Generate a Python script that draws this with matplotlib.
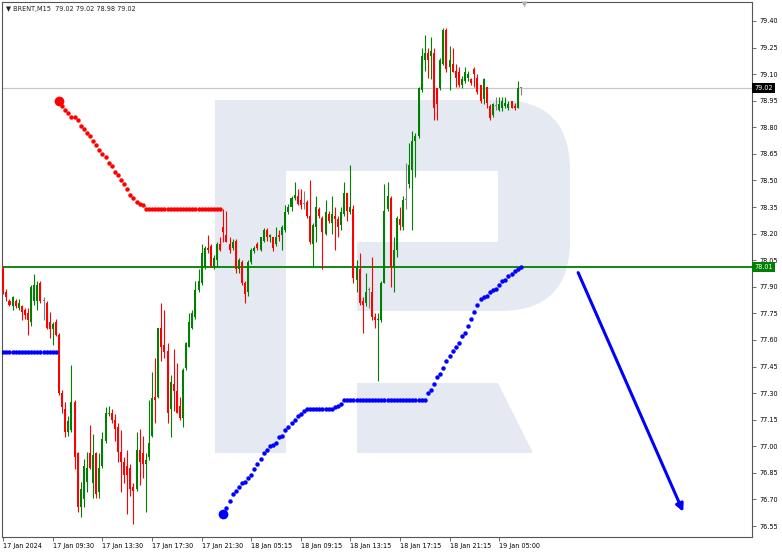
import numpy as np
import matplotlib.pyplot as plt
from matplotlib.path import Path
from matplotlib.patches import PathPatch
from matplotlib.transforms import blended_transform_factory

# BRENT M15 candles, oldest first (bar index 0..167)
opens = [
    78.00, 77.87, 77.82, 77.79, 77.82, 77.78, 77.79, 77.77, 77.75, 77.70,
    77.82, 77.82, 77.92, 77.82, 77.81, 77.70, 77.66, 77.70, 77.63, 77.30,
    77.21, 77.08, 77.09, 77.25, 76.96, 76.66, 76.70, 76.80, 76.96, 76.79,
    76.96, 76.74, 76.89, 77.03, 77.18, 77.19, 77.15, 77.11, 76.97, 76.91,
    76.89, 76.88, 76.77, 76.76, 76.98, 76.96, 76.90, 76.94, 77.06, 77.28,
    77.28, 77.67, 77.57, 77.54, 77.21, 77.35, 77.31, 77.23, 77.16, 77.44,
    77.56, 77.67, 77.73, 77.88, 77.92, 78.01, 78.12, 78.13, 78.02, 78.05,
    78.14, 78.24, 78.19, 78.14, 78.12, 78.16, 78.00, 78.04, 77.92, 77.87,
    78.04, 78.10, 78.14, 78.11, 78.16, 78.22, 78.18, 78.18, 78.14, 78.19,
    78.19, 78.22, 78.32, 78.35, 78.40, 78.41, 78.39, 78.37, 78.38, 78.30,
    78.14, 78.24, 78.34, 78.29, 78.20, 78.31, 78.26, 78.30, 78.28, 78.25,
    78.31, 78.43, 78.32, 78.34, 77.94, 78.00, 77.82, 77.81, 77.88, 77.87,
    77.73, 77.71, 77.71, 77.92, 78.34, 78.40, 78.01, 78.11, 78.28, 78.24,
    78.39, 78.48, 78.56, 78.72, 78.75, 79.01, 79.18, 79.22, 79.20, 79.22,
    79.02, 79.02, 79.16, 79.35, 79.14, 79.16, 79.12, 79.11, 79.04, 79.06,
    79.08, 79.07, 79.13, 79.08, 79.04, 78.96, 79.03, 78.92, 78.87, 78.92,
    78.90, 78.91, 78.92, 78.91, 78.95, 78.92, 78.91, 79.02,
]
highs = [
    78.02, 77.89, 77.83, 77.85, 77.83, 77.83, 77.80, 77.78, 77.78, 77.91,
    77.97, 77.93, 77.93, 77.84, 77.82, 77.76, 77.70, 77.72, 77.64, 77.32,
    77.25, 77.17, 77.46, 77.26, 76.97, 76.80, 76.93, 76.97, 77.12, 77.07,
    76.97, 76.96, 77.08, 77.22, 77.23, 77.21, 77.18, 77.13, 77.09, 76.94,
    76.98, 76.90, 76.79, 77.08, 77.10, 77.06, 76.96, 77.26, 77.42, 77.50,
    77.67, 77.81, 77.77, 77.58, 77.40, 77.55, 77.47, 77.28, 77.44, 77.59,
    77.75, 77.77, 77.93, 78.00, 78.14, 78.13, 78.19, 78.14, 78.08, 78.15,
    78.18, 78.34, 78.33, 78.18, 78.17, 78.17, 78.06, 78.05, 77.93, 78.05,
    78.12, 78.13, 78.15, 78.18, 78.23, 78.23, 78.20, 78.18, 78.24, 78.22,
    78.25, 78.36, 78.37, 78.41, 78.49, 78.45, 78.45, 78.44, 78.39, 78.50,
    78.26, 78.41, 78.35, 78.30, 78.39, 78.33, 78.41, 78.35, 78.30, 78.35,
    78.49, 78.43, 78.59, 78.36, 78.05, 78.09, 77.84, 77.98, 77.90, 78.07,
    77.75, 77.75, 77.93, 78.48, 78.49, 78.41, 78.18, 78.30, 78.35, 78.41,
    78.60, 78.71, 78.78, 78.77, 79.03, 79.25, 79.32, 79.25, 79.31, 79.25,
    79.02, 79.19, 79.36, 79.36, 79.26, 79.25, 79.16, 79.14, 79.09, 79.14,
    79.12, 79.08, 79.14, 79.10, 79.04, 79.08, 79.03, 78.93, 78.94, 78.97,
    78.97, 78.97, 78.97, 78.95, 78.95, 78.94, 79.06, 79.02,
]
lows = [
    77.86, 77.82, 77.79, 77.77, 77.78, 77.77, 77.71, 77.72, 77.63, 77.68,
    77.80, 77.77, 77.81, 77.71, 77.66, 77.61, 77.57, 77.62, 77.29, 77.19,
    77.05, 77.06, 77.08, 76.87, 76.63, 76.60, 76.66, 76.74, 76.87, 76.71,
    76.71, 76.71, 76.88, 77.02, 77.17, 77.13, 77.03, 76.91, 76.74, 76.79,
    76.62, 76.72, 76.56, 76.75, 76.78, 76.82, 76.63, 76.92, 77.05, 77.13,
    77.27, 77.48, 77.50, 77.13, 77.05, 77.20, 77.19, 77.15, 77.11, 77.43,
    77.56, 77.66, 77.72, 77.87, 77.91, 78.00, 78.09, 78.01, 78.00, 78.01,
    78.10, 78.15, 78.15, 78.09, 78.11, 77.98, 77.98, 77.91, 77.81, 77.85,
    78.03, 78.09, 78.11, 78.10, 78.15, 78.16, 78.15, 78.10, 78.13, 78.16,
    78.11, 78.21, 78.31, 78.33, 78.39, 78.36, 78.34, 78.34, 78.29, 78.14,
    78.01, 78.15, 78.29, 78.00, 78.19, 78.26, 78.20, 78.11, 78.18, 78.22,
    78.30, 78.27, 78.31, 77.92, 77.87, 77.80, 77.64, 77.79, 77.78, 77.71,
    77.67, 77.37, 77.70, 77.92, 78.33, 77.90, 77.87, 78.07, 78.22, 78.22,
    78.34, 78.46, 78.22, 78.52, 78.74, 79.00, 79.12, 79.08, 79.07, 78.84,
    78.84, 79.01, 79.15, 79.11, 79.01, 79.11, 79.03, 79.03, 79.02, 79.05,
    79.06, 79.04, 79.03, 78.99, 78.94, 78.93, 78.91, 78.84, 78.86, 78.90,
    78.89, 78.89, 78.91, 78.90, 78.91, 78.90, 78.91, 78.98,
]
closes = [
    77.88, 77.84, 77.80, 77.84, 77.79, 77.81, 77.76, 77.74, 77.71, 77.90,
    77.91, 77.91, 77.82, 77.82, 77.67, 77.66, 77.69, 77.63, 77.30, 77.22,
    77.08, 77.14, 77.25, 76.94, 76.66, 76.76, 76.89, 76.88, 76.88, 76.95,
    76.73, 76.88, 77.04, 77.19, 77.19, 77.15, 77.10, 76.97, 76.91, 76.84,
    76.84, 76.76, 76.75, 76.98, 76.91, 76.90, 76.92, 77.02, 77.27, 77.26,
    77.67, 77.56, 77.53, 77.19, 77.36, 77.31, 77.19, 77.16, 77.43, 77.58,
    77.70, 77.75, 77.88, 77.93, 78.09, 78.12, 78.11, 78.02, 78.06, 78.14,
    78.11, 78.21, 78.15, 78.11, 78.15, 78.00, 78.05, 77.92, 77.86, 78.04,
    78.11, 78.12, 78.12, 78.18, 78.22, 78.18, 78.19, 78.12, 78.18, 78.18,
    78.24, 78.32, 78.35, 78.40, 78.42, 78.37, 78.36, 78.37, 78.30, 78.15,
    78.25, 78.35, 78.30, 78.21, 78.32, 78.27, 78.31, 78.28, 78.24, 78.32,
    78.43, 78.33, 78.35, 77.95, 78.01, 77.81, 77.80, 77.87, 77.88, 77.73,
    77.71, 77.72, 77.92, 78.33, 78.41, 78.01, 78.11, 78.29, 78.25, 78.39,
    78.39, 78.59, 78.72, 78.75, 79.02, 79.20, 79.22, 79.18, 79.23, 78.91,
    78.93, 79.18, 79.35, 79.13, 79.18, 79.11, 79.08, 79.04, 79.07, 79.11,
    79.10, 79.05, 79.10, 79.00, 78.95, 79.07, 78.94, 78.85, 78.93, 78.92,
    78.93, 78.95, 78.94, 78.93, 78.91, 78.91, 79.02, 79.02,
]

# trailing-stop dots: blue below price, red above price
sar_blue_first = [77.53] * 18                      # bars 0-17
sar_red = [78.95, 78.92, 78.90, 78.88, 78.86, 78.86, 78.84, 78.81, 78.79, 78.77,
           78.75, 78.72, 78.70, 78.67, 78.65, 78.63, 78.60, 78.58, 78.55, 78.53,
           78.50, 78.48, 78.45, 78.42, 78.40, 78.38, 78.37, 78.36] + [78.34] * 25   # bars 18-70
sar_blue = [76.62, 76.65, 76.69, 76.73, 76.75, 76.77, 76.79, 76.80, 76.82, 76.84,
            76.87, 76.90, 76.93, 76.96, 76.98, 77.00, 77.01, 77.02, 77.05, 77.06,
            77.09, 77.11, 77.13, 77.15, 77.17, 77.18, 77.20, 77.21] \
    + [77.21] * 8 + [77.22, 77.23, 77.24, 77.26] + [77.26] * 26 \
    + [77.30, 77.32, 77.35, 77.39, 77.41, 77.44, 77.48, 77.51, 77.54, 77.56,
       77.58, 77.62, 77.64, 77.68, 77.72, 77.76, 77.80, 77.83, 77.84, 77.85,
       77.87, 77.88, 77.89, 77.91, 77.93, 77.94, 77.96, 77.97, 77.99, 78.00, 78.01]  # bars 71-167

time_ticks = [0, 16, 32, 48, 64, 80, 96, 112, 128, 144, 160]
time_labels = ['17 Jan 2024', '17 Jan 09:30', '17 Jan 13:30', '17 Jan 17:30',
               '17 Jan 21:30', '18 Jan 05:15', '18 Jan 09:15', '18 Jan 13:15',
               '18 Jan 17:15', '18 Jan 21:15', '19 Jan 05:00']
price_ticks = [79.40, 79.25, 79.10, 78.95, 78.80, 78.65, 78.50, 78.35, 78.20,
               78.05, 77.90, 77.75, 77.60, 77.45, 77.30, 77.15, 77.00, 76.85,
               76.70, 76.55]
level_price = 78.01
last_price = 79.02
arrow_from = (185.5, 77.98)
arrow_to = (219.4, 76.63)

GREEN = '#008000'
RED = '#ff0000'
FS = 4.7

fig = plt.figure(figsize=(7.82, 5.54), dpi=100)

# watermark "R" in pixel space behind the chart
bg = fig.add_axes([0, 0, 1, 1], zorder=0)
bg.set_xlim(0, 782)
bg.set_ylim(554, 0)
bg.axis('off')
wm = '#e4e9f2'
body = Path(
    [(215, 100), (500, 100), (570, 100), (570, 170), (570, 241), (570, 311),
     (500, 311), (357, 311), (357, 242), (498, 242), (498, 171), (286, 171),
     (286, 453), (215, 453), (215, 100)],
    [Path.MOVETO, Path.LINETO, Path.CURVE3, Path.CURVE3, Path.LINETO,
     Path.CURVE3, Path.CURVE3, Path.LINETO, Path.LINETO, Path.LINETO,
     Path.LINETO, Path.LINETO, Path.LINETO, Path.LINETO, Path.CLOSEPOLY])
bg.add_patch(PathPatch(body, fc=wm, ec='none'))
bg.add_patch(plt.Polygon([(357, 383), (498, 383), (533, 453), (357, 453)],
                         closed=True, fc=wm, ec='none'))

ax = fig.add_axes([2 / 782, 17 / 554, 750 / 782, 535.5 / 554], zorder=1)
ax.patch.set_alpha(0)

x = np.arange(len(opens))
o = np.array(opens)
h = np.array(highs)
l = np.array(lows)
c = np.array(closes)
cols = np.where(c > o, GREEN, np.where(c < o, RED, '#808080'))

ax.axhline(level_price, color=GREEN, lw=1.3, zorder=1)
ax.axhline(last_price, color='#c8c8c8', lw=0.9, zorder=1)

ax.vlines(x, l, h, colors=cols, lw=0.8, zorder=2)
ax.bar(x, np.maximum(np.abs(c - o), 0.005), bottom=np.minimum(o, c),
       width=0.65, color=cols, linewidth=0, zorder=3)

# indicator dots
ax.plot(np.arange(0, 18), sar_blue_first, 'o', color='blue', ms=3.2, mec='none', zorder=4)
ax.plot(np.arange(18, 71), sar_red, 'o', color=RED, ms=3.2, mec='none', zorder=4)
ax.plot([18], [sar_red[0]], 'o', color=RED, ms=7, mec='none', zorder=4)
ax.plot(np.arange(71, 168), sar_blue, 'o', color='blue', ms=3.2, mec='none', zorder=4)
ax.plot([71], [sar_blue[0]], 'o', color='blue', ms=7, mec='none', zorder=4)

ax.annotate('', xy=arrow_to, xytext=arrow_from,
            arrowprops=dict(arrowstyle='-|>', color='blue', lw=2.2,
                            mutation_scale=11, shrinkA=0, shrinkB=0))

ax.set_xlim(-0.42, 241.6)
ax.set_ylim(76.488, 79.510)

ax.yaxis.tick_right()
ax.set_yticks(price_ticks)
ax.set_yticklabels([f'{p:.2f}' for p in price_ticks])
ax.set_xticks(time_ticks)
ax.set_xticklabels(time_labels, ha='left')
ax.tick_params(axis='y', length=3, width=0.6, pad=2, labelsize=FS, color='#555555')
ax.tick_params(axis='x', length=3, width=0.6, pad=1.5, labelsize=FS, color='#555555')
for s in ax.spines.values():
    s.set_color('#555555')
    s.set_linewidth(0.8)

# price tags on the right scale
tr = blended_transform_factory(ax.transAxes, ax.transData)
ax.text(1.003, last_price, f'{last_price:.2f}', transform=tr, color='white',
        fontsize=FS, va='center', ha='left', zorder=6,
        bbox=dict(boxstyle='square,pad=0.3', fc='black', ec='none'))
ax.text(1.003, level_price, f'{level_price:.2f}', transform=tr, color='white',
        fontsize=FS, va='center', ha='left', zorder=6,
        bbox=dict(boxstyle='square,pad=0.3', fc=GREEN, ec='none'))

# shift marker on the top edge
tr2 = blended_transform_factory(ax.transData, ax.transAxes)
ax.plot([168], [0.995], marker='v', color='#b0b0b0', ms=4, mec='none',
        transform=tr2, clip_on=False, zorder=6)

fig.text(6 / 782, 1 - 9 / 554, '\u25bc BRENT,M15  79.02 79.02 78.98 79.02',
         fontsize=FS, va='center', ha='left', color='#222222')

fig.savefig('out.png', dpi=100, facecolor='white')
